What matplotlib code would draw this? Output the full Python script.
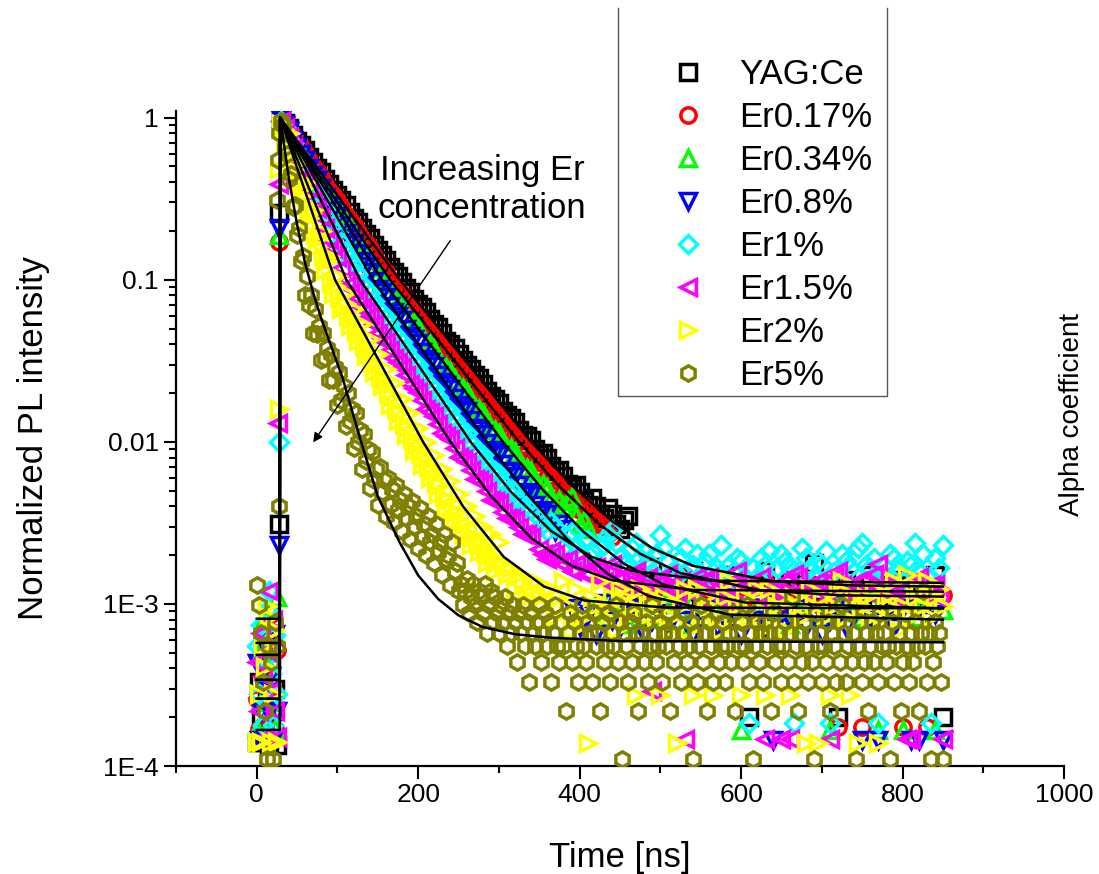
import numpy as np
import matplotlib
matplotlib.use("Agg")
import matplotlib.pyplot as plt
from matplotlib.lines import Line2D

plt.rcParams['font.family'] = ['Liberation Sans', 'DejaVu Sans']

W, H = 1099, 874
px = 1/100  # pixel in inches at dpi 100

# ---------------- data (normalized PL intensity vs time in ns) ----------------
labels = ["YAG:Ce", "Er0.17%", "Er0.34%", "Er0.8%", "Er1%", "Er1.5%", "Er2%", "Er5%"]
colors = ["black", "red", "#00ff00", "blue", "cyan", "magenta", "yellow", "#808000"]
markers = ["s", "o", "^", "v", "D", "<", ">", "h"]

# before the laser pulse, sampled at these times
t_pre = [0, 2.5, 5, 7.5, 10, 12.5, 15, 17.5, 20, 22.5, 25]
yag_pre = [1.4e-4, 3.3e-4, 2.0e-4, 5.5e-4, 1.4e-4, 2.6e-4, 1.35e-4, 4.0e-4, 2.2e-4, 3.0e-4, 1.35e-4]
er017_pre = [2.6e-4, 1.7e-4, 4.4e-4, 3.5e-4, 1.7e-4, 6.1e-4, 2.6e-4, 8.7e-4, 3.0e-4, 1.7e-4, 5.2e-4]
er034_pre = [1.7e-4, 5.0e-4, 2.5e-4, 3.3e-4, 8.3e-4, 1.7e-4, 4.1e-4, 2.5e-4, 6.6e-4, 1.7e-4, 1.1e-3]
er08_pre = [4.3e-4, 1.45e-4, 2.2e-4, 5.8e-4, 2.9e-4, 1.45e-4, 2.2e-4, 3.6e-4, 1.45e-4, 6.5e-4, 2.2e-4]
er1_pre = [5.5e-4, 2.8e-4, 7.4e-4, 1.8e-4, 4.6e-4, 9.2e-4, 1.2e-3, 3.7e-4, 1.8e-4, 6.4e-4, 2.8e-4]
er15_pre = [4.4e-4, 2.2e-4, 6.6e-4, 3.6e-4, 1.5e-4, 5.1e-4, 1.2e-3, 2.9e-4, 8.0e-4, 2.2e-4, 1.5e-4]
er2_pre = [1.4e-4, 2.8e-4, 1.4e-4, 5.5e-4, 4.1e-4, 9.7e-4, 8.3e-4, 1.4e-4, 2.8e-4, 6.9e-4, 1.4e-4]
er5_pre = [1.3e-3, 9.9e-4, 6.6e-4, 3.3e-4, 2.2e-4, 1.1e-4, 5.5e-4, 4.4e-4, 1.1e-4, 7.7e-4, 5.5e-4]

# rising edge points
yag_rise_t, yag_rise = [27, 28], [3.1e-3, 0.26]
er017_rise_t, er017_rise = [28], [0.17]
er034_rise_t, er034_rise = [28], [0.19]
er08_rise_t, er08_rise = [27, 28], [2.3e-3, 0.21]
er1_rise_t, er1_rise = [27], [0.010]
er15_rise_t, er15_rise = [26, 27], [0.013, 0.39]
er2_rise_t, er2_rise = [28, 27], [0.016, 0.48]
er5_rise_t, er5_rise = [27, 25, 26, 27], [4.0e-3, 0.31, 0.55, 0.8]

# decay, starting at t = 30 ns
yag_decay = [1.0, 0.93, 0.86, 0.78, 0.72, 0.68, 0.63, 0.575, 0.53, 0.49,
             0.46, 0.42, 0.39, 0.36, 0.335, 0.31, 0.29, 0.262, 0.24, 0.226,
             0.21, 0.193, 0.18, 0.164, 0.152, 0.143, 0.133, 0.120, 0.111, 0.105,
             0.097, 0.089, 0.084, 0.076, 0.071, 0.068, 0.063, 0.057, 0.053, 0.051,
             0.047, 0.042, 0.040, 0.038, 0.035, 0.032, 0.030, 0.028, 0.026, 0.0247,
             0.0228, 0.0205, 0.0192, 0.0185, 0.0174, 0.0156, 0.0146, 0.0140, 0.0133, 0.0118,
             0.0110, 0.0108, 0.0102, 0.0090, 0.0084, 0.0085, 0.0080, 0.0071, 0.0066, 0.0067,
             0.0062, 0.0055, 0.0052, 0.0054, 0.0049, 0.0043, 0.0041, 0.0045, 0.0040, 0.0036,
             0.0034, 0.0039, 0.0036, 0.0031, 0.0029, 0.0033, 0.0035]
er017_decay = [0.98, 0.92, 0.85, 0.77, 0.70, 0.66, 0.61, 0.55, 0.50, 0.47,
               0.43, 0.39, 0.355, 0.335, 0.31, 0.28, 0.25, 0.235, 0.218, 0.196,
               0.178, 0.168, 0.156, 0.140, 0.127, 0.119, 0.111, 0.100, 0.091, 0.087,
               0.082, 0.074, 0.068, 0.065, 0.061, 0.055, 0.050, 0.048, 0.0455, 0.041,
               0.0375, 0.0358, 0.0338, 0.0305, 0.0280, 0.0268, 0.0252, 0.0228, 0.0209, 0.0202,
               0.0191, 0.0171, 0.0157, 0.0153, 0.0145, 0.0130, 0.0118, 0.0116, 0.0111, 0.0101,
               0.0096, 0.0086, 0.0079, 0.0078, 0.0075, 0.0067, 0.0061, 0.0061, 0.0058, 0.0052,
               0.0048, 0.0048, 0.0046, 0.0041, 0.0038, 0.0040, 0.0038, 0.0034, 0.0031, 0.0032,
               0.0030, 0.0027, 0.0026]
er034_decay = [0.99, 0.91, 0.84, 0.75, 0.68, 0.63, 0.58, 0.52, 0.47, 0.44,
               0.40, 0.36, 0.325, 0.305, 0.28, 0.25, 0.226, 0.212, 0.195, 0.173,
               0.155, 0.146, 0.135, 0.120, 0.108, 0.101, 0.094, 0.085, 0.078, 0.074,
               0.069, 0.062, 0.056, 0.054, 0.051, 0.045, 0.041, 0.040, 0.0375, 0.033,
               0.030, 0.0290, 0.0275, 0.0245, 0.0222, 0.0215, 0.0203, 0.0181, 0.0165, 0.0160,
               0.0151, 0.0134, 0.0122, 0.0119, 0.0113, 0.0100, 0.0092, 0.0091, 0.0086, 0.0076,
               0.0069, 0.0069, 0.0066, 0.0058, 0.0053, 0.0055, 0.0052, 0.0045, 0.0041, 0.0044,
               0.0040, 0.0043, 0.0046, 0.0035, 0.0031, 0.0033, 0.0029]
er08_decay = [0.97, 0.90, 0.83, 0.73, 0.655, 0.60, 0.55, 0.49, 0.44, 0.41,
              0.37, 0.325, 0.29, 0.27, 0.248, 0.218, 0.195, 0.181, 0.166, 0.146,
              0.130, 0.121, 0.111, 0.098, 0.088, 0.084, 0.078, 0.069, 0.063, 0.060,
              0.0565, 0.050, 0.0452, 0.0432, 0.0405, 0.0360, 0.0325, 0.0310, 0.0292, 0.0258,
              0.0234, 0.0224, 0.0211, 0.0186, 0.0168, 0.0162, 0.0154, 0.0136, 0.0122, 0.0118,
              0.0112, 0.0099, 0.0089, 0.0087, 0.0083, 0.0073, 0.0066, 0.0065, 0.0062, 0.0054,
              0.0048, 0.0049, 0.0047, 0.0041, 0.0037, 0.0038, 0.0036, 0.0031, 0.0028, 0.0031,
              0.0029]
er1_decay = [0.96, 0.88, 0.80, 0.70, 0.61, 0.55, 0.50, 0.44, 0.385, 0.35,
             0.315, 0.275, 0.24, 0.218, 0.197, 0.172, 0.150, 0.137, 0.124, 0.108,
             0.094, 0.088, 0.083, 0.074, 0.066, 0.062, 0.059, 0.053, 0.047, 0.044,
             0.0415, 0.0370, 0.0332, 0.0315, 0.0296, 0.0264, 0.0236, 0.0225, 0.0212, 0.0188,
             0.0168, 0.0162, 0.0154, 0.0136, 0.0121, 0.0118, 0.0113, 0.0099, 0.0088, 0.0086,
             0.0083, 0.0073, 0.0066, 0.0066, 0.0063, 0.0056, 0.0050, 0.0051, 0.0049, 0.0043,
             0.0039, 0.0041, 0.0038, 0.0036, 0.0034, 0.0031, 0.0028, 0.0032, 0.0030]
er15_decay = [0.95, 0.86, 0.76, 0.65, 0.55, 0.49, 0.43, 0.37, 0.31, 0.278,
              0.245, 0.208, 0.176, 0.158, 0.139, 0.118, 0.100, 0.094, 0.087, 0.077,
              0.068, 0.064, 0.060, 0.053, 0.047, 0.044, 0.0415, 0.0370, 0.0328, 0.0310,
              0.029, 0.0258, 0.0228, 0.0216, 0.0204, 0.0181, 0.0160, 0.0153, 0.0144, 0.0128,
              0.0113, 0.0109, 0.0104, 0.0092, 0.0081, 0.0078, 0.0075, 0.0067, 0.0059, 0.0058,
              0.0056, 0.0050, 0.0044, 0.0043, 0.0042, 0.0037, 0.0034, 0.0034, 0.0033, 0.0030,
              0.0027, 0.0027, 0.0026]
er2_decay = [0.92, 0.85, 0.70, 0.74, 0.80, 0.58, 0.48, 0.52, 0.55, 0.40,
             0.33, 0.37, 0.40, 0.29, 0.24, 0.26, 0.27, 0.19, 0.16, 0.18,
             0.20, 0.14, 0.115, 0.13, 0.14, 0.097, 0.082, 0.092, 0.105, 0.078,
             0.066, 0.072, 0.083, 0.060, 0.052, 0.057, 0.066, 0.048, 0.042, 0.046,
             0.053, 0.039, 0.034, 0.037, 0.043, 0.031, 0.027, 0.030, 0.035, 0.025,
             0.022, 0.024, 0.028, 0.020, 0.017, 0.019, 0.023, 0.016, 0.0135, 0.015,
             0.0185, 0.0128, 0.011, 0.0122, 0.0150, 0.0104, 0.0088, 0.0096, 0.0122, 0.0085,
             0.0072, 0.0080, 0.0100, 0.0070, 0.0060, 0.0066, 0.0083, 0.0056, 0.0048, 0.0054,
             0.0068, 0.0046, 0.0039, 0.0044, 0.0057, 0.0038, 0.0033, 0.0037, 0.0048, 0.0032,
             0.0027, 0.0031, 0.0040, 0.0027, 0.0023, 0.0026, 0.0035, 0.0024, 0.0021, 0.0023,
             0.0030, 0.0021, 0.0018, 0.0020, 0.0027, 0.0019, 0.0016, 0.0018, 0.0024]
er5_decay = [0.95, 0.90, 0.66, 0.60, 0.42, 0.45, 0.28, 0.29, 0.19, 0.21,
             0.13, 0.14, 0.080, 0.105, 0.070, 0.080, 0.047, 0.066, 0.046, 0.052,
             0.032, 0.047, 0.033, 0.038, 0.024, 0.035, 0.024, 0.029, 0.017, 0.027,
             0.018, 0.022, 0.0125, 0.020, 0.0135, 0.016, 0.0092, 0.0150, 0.0100, 0.0118,
             0.0068, 0.0112, 0.0076, 0.0090, 0.0052, 0.0086, 0.0058, 0.0068, 0.0041, 0.0070,
             0.0049, 0.0058, 0.0035, 0.0060, 0.0041, 0.0051, 0.0032, 0.0054, 0.0038, 0.0044,
             0.0028, 0.0048, 0.0034, 0.0040, 0.0025, 0.0043, 0.0030, 0.0035, 0.0022, 0.0039,
             0.0026, 0.0031, 0.0020, 0.0035, 0.0024, 0.0027, 0.0018, 0.0031, 0.0021, 0.0024,
             0.0015, 0.0027, 0.0019, 0.0020, 0.0013, 0.0024, 0.0016, 0.0018, 0.0012]
decay_step = [5, 5, 5, 5, 5, 5, 2.5, 2.5]

# background tail as photon counts, with the count unit of each curve
yag_tail = [15, 12, 17, 13, 11, 14, 12, 16, 10, 13, 9, 12, 15, 11, 2, 13, 16, 10, 12, 14,
            11, 13, 18, 12, 10, 2, 14, 12, 11, 15, 13, 12, 10, 14, 13, 11, 12, 15, 2]
er017_tail = [14, 11, 16, 13, 12, 15, 10, 13, 17, 12, 11, 14, 13, 9, 15, 12, 14, 11, 16, 13,
              12, 10, 14, 13, 15, 11, 12, 2, 14, 13, 2, 11, 15, 12, 13, 2, 14, 12, 2, 11, 13]
er034_tail = [12, 10, 14, 11, 9, 13, 12, 10, 15, 11, 12, 9, 13, 11, 10, 14, 12, 11, 2, 13,
              10, 12, 11, 14, 9, 12, 13, 11, 10, 2, 12, 14, 11, 10, 13, 2, 12, 11, 2, 13,
              10, 12, 2, 11]
er08_tail = [13, 10, 12, 9, 14, 11, 10, 12, 13, 9, 11, 12, 10, 14, 11, 9, 12, 13, 10, 11,
             12, 9, 13, 11, 10, 2, 12, 11, 13, 10, 12, 9, 11, 14, 10, 12, 2, 11, 2, 12,
             10, 13, 2, 2, 11, 12, 2]
er1_tail = [24, 28, 30, 25, 22, 27, 27, 23, 19, 24, 25, 29, 31, 26, 21, 19, 18, 24, 26, 21,
            23, 20, 17, 22, 29, 24, 20, 17, 16, 21, 24, 18, 19, 22, 15, 20, 22, 17, 18, 25,
            14, 19, 17, 21, 20, 16, 2, 18, 16, 21, 19, 23, 15, 18, 22, 20, 18, 2, 17, 24,
            21, 18, 16, 20, 19, 23, 2, 17, 15, 22, 20, 18, 17, 24, 26, 19, 18, 21, 2, 16,
            16, 22, 21, 18, 15, 20, 19, 26, 17, 22, 16, 2, 21, 18, 25]
er15_tail = [30, 28, 26, 29, 28, 25, 24, 26, 22, 24, 25, 21, 21, 23, 23, 20, 19, 22, 24, 19,
             20, 18, 18, 21, 22, 17, 17, 20, 4, 18, 19, 17, 21, 18, 16, 19, 2, 17, 18, 20,
             15, 19, 20, 16, 17, 15, 14, 18, 19, 22, 16, 18, 18, 15, 15, 20, 2, 17, 17, 16,
             2, 19, 2, 21, 20, 17, 16, 18, 15, 19, 18, 16, 2, 20, 22, 18, 17, 15, 15, 19,
             19, 17, 16, 21, 24, 18, 18, 16, 15, 17, 17, 2, 2, 19, 20, 16, 16, 18, 18, 15, 2]
er2_tail = [13, 11, 12, 9, 11, 10, 8, 9, 10, 8, 7, 9, 9, 6, 8, 10, 7, 5, 9, 6,
            6, 1, 8, 7, 10, 6, 7, 8, 5, 9, 8, 6, 7, 2, 9, 6, 7, 8, 6, 2,
            8, 5, 6, 1, 7, 9, 5, 2, 9, 6, 8, 7, 2, 6, 5, 8, 10, 6, 7, 2,
            8, 6, 7, 9, 5, 2, 9, 6, 7, 8, 5, 2, 8, 7, 6, 1, 9, 7, 1, 8,
            6, 2, 7, 9, 10, 6, 2, 8, 1, 7, 8, 6, 9, 1, 6, 8, 7, 10, 5, 7,
            11, 6, 8, 9, 7, 10, 6, 8, 9, 7]
er5_tail = [12, 9, 11, 13, 8, 10, 12, 9, 7, 11, 10, 8, 12, 6, 9, 11, 7, 10, 8, 6,
            9, 7, 10, 5, 8, 6, 9, 7, 4, 8, 6, 9, 5, 7, 3, 8, 6, 5, 7, 9,
            4, 6, 8, 5, 7, 3, 6, 9, 5, 4, 7, 5, 2, 6, 8, 4, 7, 5, 3, 6,
            9, 5, 4, 7, 6, 3, 8, 5, 6, 2, 7, 4, 5, 8, 3, 6, 5, 9, 4, 7,
            1, 6, 5, 3, 7, 4, 8, 6, 2, 5, 6, 4, 7, 3, 5, 9, 6, 4, 5, 7,
            3, 6, 5, 8, 2, 6, 4, 7, 5, 3, 6, 8, 4, 5, 7, 1, 6, 3, 5, 9,
            4, 6, 2, 7, 5, 3, 6, 8, 4, 5, 7, 3, 5, 6, 4, 8, 2, 6, 5, 7,
            4, 5, 9, 3, 6, 1, 5, 7, 4, 6, 3, 7, 5, 6, 2, 8, 4, 5, 6, 3,
            5, 7, 4, 6, 10, 3, 5, 2, 6, 4, 7, 5, 3, 6, 4, 1, 8, 5, 6, 3,
            5, 4, 7, 2, 6, 5, 3, 7, 4, 9, 6, 3, 5, 8, 4, 6, 1, 5, 7, 3,
            4, 6, 2, 5, 7, 4, 6, 3, 8, 5, 6, 4, 5, 1, 7, 3, 5, 6, 2, 4,
            8, 5, 3, 6, 4, 7, 5, 2, 6, 11, 5, 3, 6, 1, 4, 7, 5, 6, 3, 1]
tail_start = [470, 450, 420, 390, 380, 350, 305, 252.5]
tail_step = [10, 10, 10, 10, 5, 5, 5, 2.5]
count_unit = [1.0e-4, 0.87e-4, 0.83e-4, 0.725e-4, 0.92e-4, 0.73e-4, 1.38e-4, 1.1e-4]

# exponential fits (black lines)
yag_fit_t = [0, 28.5, 29, 177, 340, 390, 440, 490, 540, 640, 740, 850]
yag_fit = [8.1e-4, 8.1e-4, 1.0, 0.1, 0.01, 0.00541, 0.00324, 0.00221, 0.00172, 0.00138, 0.00130, 0.00128]
er017_fit_t = [0, 28.5, 29, 165, 325, 375, 425, 475, 525, 625, 725, 850]
er017_fit = [5.75e-4, 5.75e-4, 1.0, 0.1, 0.01, 0.0053, 0.00308, 0.00204, 0.00155, 0.00121, 0.00113, 0.00111]
er034_fit_t = [0, 28.5, 29, 155, 305, 355, 405, 455, 505, 605, 850]
er034_fit = [4.85e-4, 4.85e-4, 1.0, 0.1, 0.01, 0.00502, 0.00278, 0.00177, 0.00131, 0.00102, 0.00094]
er08_fit_t = [0, 28.5, 29, 144, 285, 335, 385, 435, 485, 585, 850]
er08_fit = [3.4e-4, 3.4e-4, 1.0, 0.1, 0.01, 0.00476, 0.0025, 0.00153, 0.00112, 0.00086, 0.0008]
er1_fit_t = [0, 28.5, 29, 128, 265, 315, 365, 415, 465, 565, 850]
er1_fit = [2.6e-4, 2.6e-4, 1.0, 0.1, 0.01, 0.00491, 0.00281, 0.00195, 0.0016, 0.00139, 0.00135]
er15_fit_t = [0, 28.5, 29, 111, 240, 290, 340, 390, 440, 540, 850]
er15_fit = [1.67e-4, 1.67e-4, 1.0, 0.1, 0.01, 0.00464, 0.00255, 0.00172, 0.0014, 0.00122, 0.00119]
er2_fit_t = [0, 28.5, 29, 97, 206, 256, 306, 356, 406, 506, 850]
er2_fit = [2.6e-4, 2.6e-4, 1.0, 0.1, 0.01, 0.00397, 0.00195, 0.00128, 0.00105, 0.00095, 0.00094]
er5_fit_t = [0, 28.5, 29, 40, 50, 60, 70, 80, 90, 106, 128, 150, 177, 200, 225, 250, 280, 320, 363, 450, 850]
er5_fit = [3.4e-4, 3.4e-4, 1.0, 0.417, 0.219, 0.126, 0.083, 0.0575, 0.0417, 0.0251, 0.0105,
           0.0046, 0.0024, 0.0015, 0.00107, 0.00085, 0.00072, 0.00065, 0.00062, 0.00059, 0.00058]

pres = [yag_pre, er017_pre, er034_pre, er08_pre, er1_pre, er15_pre, er2_pre, er5_pre]
rises_t = [yag_rise_t, er017_rise_t, er034_rise_t, er08_rise_t, er1_rise_t, er15_rise_t, er2_rise_t, er5_rise_t]
rises = [yag_rise, er017_rise, er034_rise, er08_rise, er1_rise, er15_rise, er2_rise, er5_rise]
decays = [yag_decay, er017_decay, er034_decay, er08_decay, er1_decay, er15_decay, er2_decay, er5_decay]
tails = [yag_tail, er017_tail, er034_tail, er08_tail, er1_tail, er15_tail, er2_tail, er5_tail]
fits_t = [yag_fit_t, er017_fit_t, er034_fit_t, er08_fit_t, er1_fit_t, er15_fit_t, er2_fit_t, er5_fit_t]
fits = [yag_fit, er017_fit, er034_fit, er08_fit, er1_fit, er15_fit, er2_fit, er5_fit]

# ---------------- figure ----------------
fig = plt.figure(figsize=(W*px, H*px), dpi=100)
ax = fig.add_axes([176/W, 1-766/H, (1064-176)/W, (766-111)/H])

handles = []
for i in range(8):
    dec_t = 30 + decay_step[i]*np.arange(len(decays[i]))
    tail_t = tail_start[i] + tail_step[i]*np.arange(len(tails[i]))
    t = np.concatenate([t_pre, rises_t[i], dec_t, tail_t])
    y = np.concatenate([pres[i], rises[i], decays[i], np.array(tails[i])*count_unit[i]])
    ms = 9.5 if markers[i] == "D" else 11
    h, = ax.plot(t, y, ls="none", marker=markers[i], ms=ms, mfc="none",
                 mec=colors[i], mew=2.5, label=labels[i], zorder=2+i*0.1)
    handles.append(h)

for i in range(8):
    ax.plot(fits_t[i], fits[i], color="black", lw=1.8, zorder=5)

ax.set_yscale("log")
ax.set_xlim(-100, 1000)
ax.set_ylim(1e-4, 1.1)
ax.set_yticks([1e-4, 1e-3, 1e-2, 1e-1, 1], ["1E-4", "1E-3", "0.01", "0.1", "1"])
ax.set_xticks([0, 200, 400, 600, 800, 1000])
ax.set_xticks([-100, 100, 300, 500, 700, 900], minor=True)
ax.tick_params(which="both", direction="out", width=1.5, labelsize=19)
ax.tick_params(which="major", length=9)
ax.tick_params(which="minor", length=5)
ax.tick_params(axis="y", which="minor", labelleft=False)
for s in ["top", "right"]:
    ax.spines[s].set_visible(False)
for s in ["left", "bottom"]:
    ax.spines[s].set_linewidth(1.6)

ax.set_xlabel("Time [ns]", fontsize=25, labelpad=24)
ax.set_ylabel("Normalized PL intensity", fontsize=25, labelpad=38)

ax.text(279, 0.36, "Increasing Er\nconcentration", fontsize=25, ha="center", va="center",
        linespacing=1.2)
ax.annotate("", xy=(68, 0.0096), xytext=(241.6, 0.18),
            arrowprops=dict(arrowstyle="-|>", color="black", lw=1.0, mutation_scale=14))

fig.text(1072/W, 1-415/H, "Alpha coefficient", rotation=90, fontsize=20,
         ha="center", va="center")

# legend with a box open at the top
leg = fig.legend(handles=handles, loc="upper left", bbox_to_anchor=(671/W, 1-58/H),
                 bbox_transform=fig.transFigure, frameon=False, fontsize=25,
                 handlelength=1.0, handletextpad=0.95, labelspacing=0.29,
                 borderpad=0, borderaxespad=0)
bx = [618/W, 618/W, 887/W, 887/W]
by = [1-8/H, 1-396/H, 1-396/H, 1-8/H]
fig.add_artist(Line2D(bx, by, color="#555555", lw=1.0, transform=fig.transFigure))

fig.savefig("out.png", dpi=100)
